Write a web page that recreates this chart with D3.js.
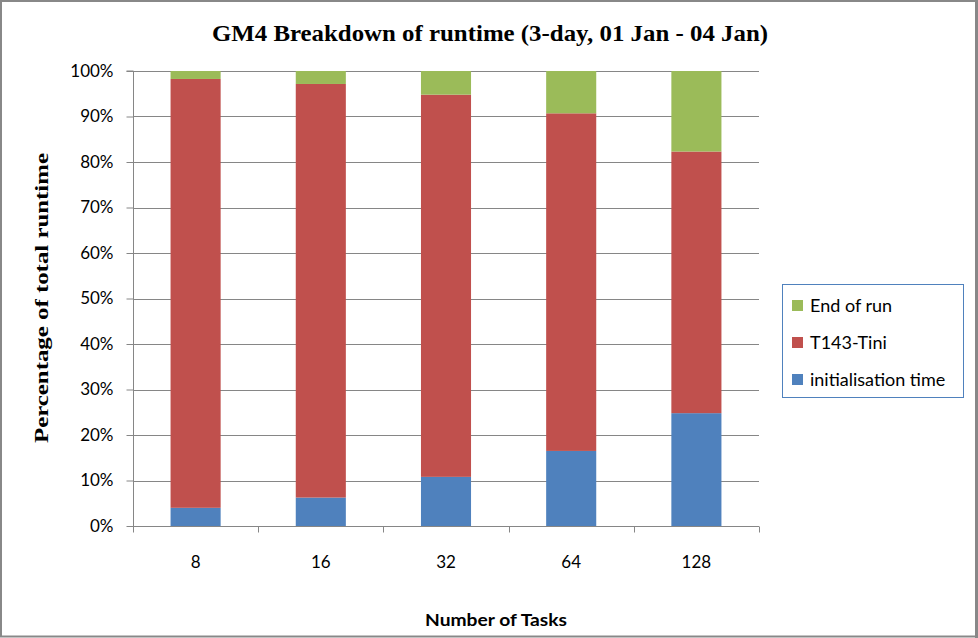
<!DOCTYPE html>
<html><head><meta charset="utf-8">
<script src="https://cdn.jsdelivr.net/npm/d3@7"></script>
<style>body{margin:0;background:#fff}svg{display:block}</style>
</head><body>
<svg id="c" width="978" height="638"></svg>
<script>
const categories = ["8","16","32","64","128"];
const initTime = [4.0, 6.25, 10.8, 16.5, 24.8];
const t143Tini = [94.25, 90.9, 84.0, 74.2, 57.5];
const endOfRun = [1.75, 2.85, 5.2, 9.3, 17.7];
const yTicks = [0,10,20,30,40,50,60,70,80,90,100];
const seriesNames = ["initialisation time","T143-Tini","End of run"];
const colors = ["#4F81BD","#C0504D","#9BBB59"];

const svg = d3.select("#c");
const W = 978, H = 638;
const m = {l:133, r:219, t:71, b:112};
const x = d3.scaleBand().domain(categories).range([m.l, W - m.r]).paddingInner(0.6).paddingOuter(0.3);
const y = d3.scaleLinear().domain([0,100]).range([H - m.b, m.t]);

// outer border
svg.append("rect").attr("x",1).attr("y",1).attr("width",W-3).attr("height",H-2.5)
  .attr("fill","#fff").attr("stroke","#888").attr("stroke-width",2);
svg.append("rect").attr("x",W-3).attr("y",0).attr("width",3).attr("height",H).attr("fill","#888");

// gridlines
svg.append("g").selectAll("line").data(yTicks.slice(1)).join("line")
  .attr("x1",m.l).attr("x2",W-m.r).attr("y1",d=>Math.round(y(d))+0.5).attr("y2",d=>Math.round(y(d))+0.5)
  .attr("stroke","#868686").attr("stroke-width",1);

// stacked data
const rows = categories.map((c,i)=>({cat:c, "initialisation time":initTime[i], "T143-Tini":t143Tini[i], "End of run":endOfRun[i]}));
const stack = d3.stack().keys(seriesNames)(rows);
svg.append("g").selectAll("g").data(stack).join("g").attr("fill",(d,i)=>colors[i])
  .selectAll("rect").data(d=>d).join("rect")
  .attr("x",d=>x(d.data.cat)).attr("width",x.bandwidth())
  .attr("y",d=>y(d[1])).attr("height",d=>y(d[0])-y(d[1]));

// y axis
const yAxis = d3.axisLeft(y).tickValues(yTicks).tickFormat(d=>d+"%").tickSize(7).tickPadding(13);
const ga = svg.append("g").attr("transform",`translate(${m.l+0.5},0)`).call(yAxis);
ga.select(".domain").attr("stroke","#868686").attr("d",`M-7,${y(100)}H0V${y(0)}`);
ga.selectAll(".tick line").attr("stroke","#868686");
ga.selectAll("text").attr("font-family","Lato, 'Open Sans', sans-serif").attr("font-size","17px").attr("fill","#000");

// x axis
const gx = svg.append("g").attr("transform",`translate(0,${Math.round(y(0))+0.5})`);
gx.append("line").attr("x1",m.l).attr("x2",W-m.r).attr("stroke","#868686");
const bounds = d3.range(categories.length+1).map(i=>m.l + i*(W-m.l-m.r)/categories.length);
gx.selectAll("line.t").data(bounds).join("line").attr("class","t")
  .attr("x1",d=>Math.round(d)+0.5).attr("x2",d=>Math.round(d)+0.5).attr("y1",0).attr("y2",6).attr("stroke","#868686");
gx.selectAll("text").data(categories).join("text")
  .attr("x",d=>x(d)+x.bandwidth()/2).attr("y",41).attr("text-anchor","middle")
  .attr("font-family","Lato, 'Open Sans', sans-serif").attr("font-size","17px").text(d=>d);

// title
svg.append("text").attr("x",490).attr("y",41).attr("text-anchor","middle")
  .attr("font-family","'Liberation Serif', 'Times New Roman', serif").attr("font-weight","bold")
  .attr("font-size","24px").attr("textLength",556).attr("lengthAdjust","spacingAndGlyphs")
  .text("GM4 Breakdown of runtime (3-day, 01 Jan - 04 Jan)");

// y title
svg.append("text").attr("transform","translate(48,298) rotate(-90)").attr("text-anchor","middle")
  .attr("font-family","'Liberation Serif', 'Times New Roman', serif").attr("font-weight","bold")
  .attr("font-size","19px").attr("textLength",290).attr("lengthAdjust","spacingAndGlyphs")
  .text("Percentage of total runtime");

// x title
svg.append("text").attr("x",496).attr("y",626).attr("text-anchor","middle")
  .attr("font-family","Lato, 'Open Sans', sans-serif").attr("font-weight","bold")
  .attr("font-size","17px").attr("textLength",142).attr("lengthAdjust","spacingAndGlyphs")
  .text("Number of Tasks");

// legend
const lg = svg.append("g");
lg.append("rect").attr("x",782.5).attr("y",284.5).attr("width",181).attr("height",113)
  .attr("fill","#fff").attr("stroke","#4F81BD").attr("stroke-width",1);
const legendItems = [{n:"End of run",c:colors[2]},{n:"T143-Tini",c:colors[1]},{n:"initialisation time",c:colors[0]}];
const li = lg.selectAll("g.i").data(legendItems).join("g").attr("class","i")
  .attr("transform",(d,i)=>`translate(792,${300+i*37})`);
li.append("rect").attr("width",11).attr("height",11).attr("fill",d=>d.c);
li.append("text").attr("x",18).attr("y",12).attr("font-family","Lato, 'Open Sans', sans-serif")
  .attr("font-size","18px").attr("fill","#000").text(d=>d.n);
</script>
</body></html>
